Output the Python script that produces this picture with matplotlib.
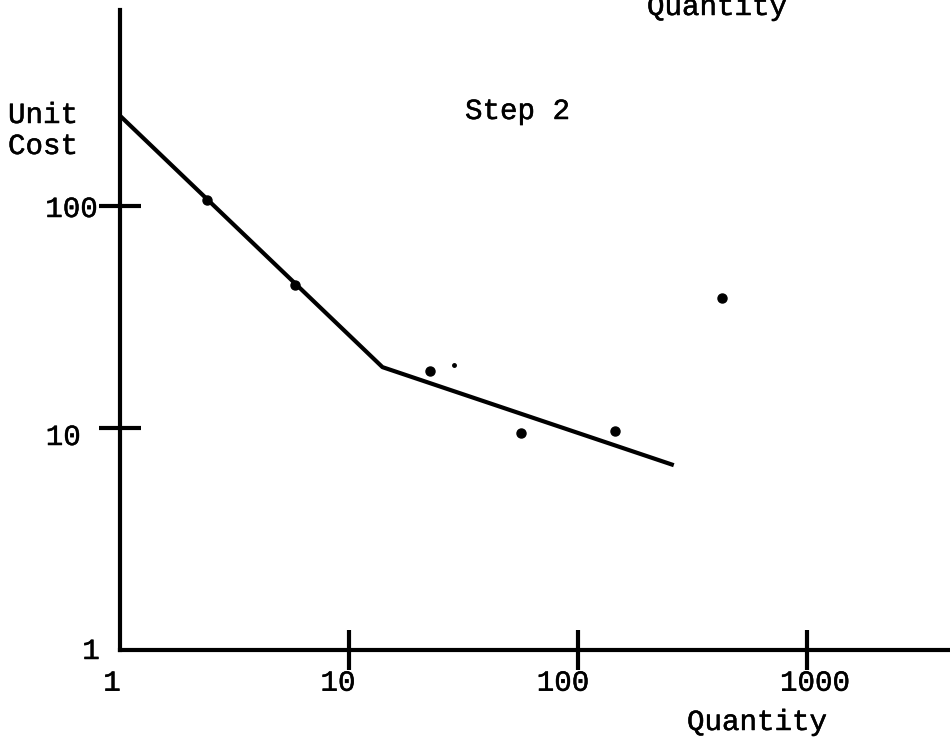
import numpy as np
import matplotlib
matplotlib.use("Agg")
import matplotlib.pyplot as plt
import matplotlib.patheffects as pe
from matplotlib.transforms import ScaledTranslation

# fitted unit-cost curve (two straight pieces on log-log)
line_qty = [1, 14, 262]
line_cost = [255, 18.8, 6.8]

# observed points
pt_qty = [2.4, 5.8, 22.5, 56.5, 145, 427]
pt_cost = [106, 44, 18, 9.5, 9.7, 38.7]

# small speck near the points
speck_qty = [28.7]
speck_cost = [19.2]

x_ticks = [1, 10, 100, 1000]
x_ticklabels = ["1", "10", "100", "1000"]
y_ticks = [1, 10, 100]
y_ticklabels = ["1", "10", "100"]

plt.rcParams['font.family'] = ['Liberation Mono', 'DejaVu Sans Mono']
FS = 21
# typewriter ink is a bit heavier than the plain font
ink = [pe.withStroke(linewidth=0.35, foreground="black")]

W, H = 950, 744
fig = plt.figure(figsize=(W / 100, H / 100), dpi=100)
ax = fig.add_axes([120 / W, (H - 650) / H, 830 / W, 640 / H])
ax.set_xscale("log")
ax.set_yscale("log")
ax.set_xlim(1, 10 ** (830 / 229))
ax.set_ylim(1, 10 ** (640 / 222))

ax.plot(line_qty, line_cost, color="black", lw=3, solid_capstyle="butt")
ax.plot(pt_qty, pt_cost, "o", color="black", ms=6.5)
ax.plot(speck_qty, speck_cost, "o", color="black", ms=2.5)

for s in ["top", "right"]:
    ax.spines[s].set_visible(False)
for s in ["left", "bottom"]:
    ax.spines[s].set_linewidth(3)

ax.set_xticks(x_ticks)
ax.set_xticklabels(x_ticklabels)
ax.set_yticks(y_ticks)
ax.set_yticklabels(y_ticklabels)
ax.minorticks_off()
ax.tick_params(axis="x", direction="inout", length=29, width=3, pad=-1, labelsize=FS)
ax.tick_params(axis="y", direction="inout", length=30, width=3, pad=1, labelsize=FS)
ax.xaxis.get_major_ticks()[0].tick1line.set_visible(False)
ax.yaxis.get_major_ticks()[0].tick1line.set_visible(False)

# typewritten labels sit a little off their ticks
x_shift = [-8, -11, -15, 8]
for lab, dx in zip(ax.get_xticklabels(), x_shift):
    lab.set_transform(lab.get_transform() + ScaledTranslation(dx / 100, 0, fig.dpi_scale_trans))
    lab.set_path_effects(ink)
y_shift = [(2, 2), (-17, -6), (0, 0)]
for lab, (dx, dy) in zip(ax.get_yticklabels(), y_shift):
    lab.set_transform(lab.get_transform() + ScaledTranslation(dx / 100, dy / 100, fig.dpi_scale_trans))
    lab.set_path_effects(ink)

def put(x, y, s):
    fig.text(x / W, 1 - y / H, s, fontsize=FS, va="baseline", ha="left", path_effects=ink)

put(8, 123, "Unit")
put(8, 154, "Cost")
put(465, 119, "Step 2")
put(687, 730, "Quantity")
put(647, 15, "Quantity")

fig.savefig("out.png", dpi=100, facecolor="white")
